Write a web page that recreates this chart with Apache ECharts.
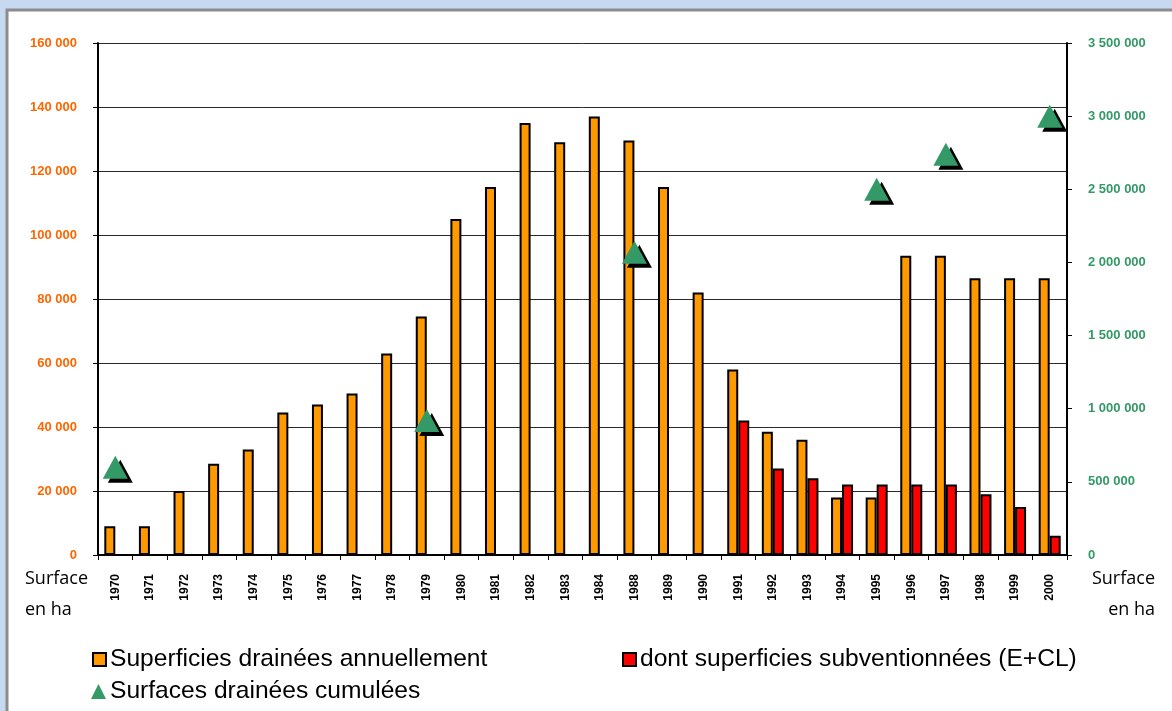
<!DOCTYPE html>
<html>
<head>
<meta charset="utf-8">
<script src="https://cdn.jsdelivr.net/npm/echarts@6/dist/echarts.min.js"></script>
<style>
  html, body { margin: 0; padding: 0; background: #c6d9f0; }
  #chart { width: 1172px; height: 711px; }
</style>
</head>
<body>
<div id="chart"></div>
<script>
const years = ['1970', '1971', '1972', '1973', '1974', '1975', '1976', '1977', '1978', '1979',
  '1980', '1981', '1982', '1983', '1984', '1988', '1989', '1990', '1991', '1992', '1993',
  '1994', '1995', '1996', '1997', '1998', '1999', '2000']

const annual = [9000, 9000, 20000, 28500, 33000, 44500, 47000, 50500, 63000, 74500,
  105000, 115000, 135000, 129000, 137000, 129500, 115000, 82000, 58000, 38500, 36000,
  18000, 18000, 93500, 93500, 86500, 86500, 86500]

const subsidised = [null, null, null, null, null, null, null, null, null, null,
  null, null, null, null, null, null, null, null, 42000, 27000, 24000,
  22000, 22000, 22000, 22000, 19000, 15000, 6000]

const cumulated = [600000, null, null, null, null, null, null, null, null, 920000,
  null, null, null, null, null, 2070000, null, null, null, null, null,
  null, 2500000, null, 2740000, null, null, 3000000]

const leftTicks = { min: 0, max: 160000, interval: 20000 }
const rightTicks = { min: 0, max: 3500000, interval: 500000 }

const names = [
  'Superficies drainées annuellement',
  'dont superficies subventionnées (E+CL)',
  'Surfaces drainées cumulées'
]

const fmt = v => String(v).replace(/\B(?=(\d{3})+(?!\d))/g, ' ')

const chart = echarts.init(document.getElementById('chart'), null, { renderer: 'canvas' })

const legendBase = {
  orient: 'horizontal',
  padding: 0,
  itemWidth: 13,
  itemHeight: 13,
  itemGap: 5,
  textStyle: { fontFamily: 'Liberation Sans, Arial, sans-serif', fontSize: 24.6, color: '#000', padding: [0, 0, 0, -1] },
  itemStyle: { shadowColor: 'rgba(0,0,0,0)', shadowOffsetX: 0, shadowOffsetY: 0 }
}

const sideFont = '18px "Open Sans", sans-serif'

const option = {
  animation: false,
  backgroundColor: '#c6d9f0',
  textStyle: { fontFamily: 'Liberation Sans, Arial, sans-serif' },
  graphic: [
    {
      type: 'rect',
      z: -10,
      silent: true,
      shape: { x: 7, y: 10, width: 1220, height: 760 },
      style: { fill: '#fff', stroke: '#8c8c8c', lineWidth: 3 }
    },
    { type: 'text', left: 25, top: 570, style: { text: 'Surface', font: sideFont, fill: '#000' } },
    { type: 'text', left: 25, top: 601, style: { text: 'en ha', font: sideFont, fill: '#000' } },
    { type: 'text', right: 17, top: 570, style: { text: 'Surface', font: sideFont, fill: '#000' } },
    { type: 'text', right: 17, top: 601, style: { text: 'en ha', font: sideFont, fill: '#000' } }
  ],
  legend: [
    Object.assign({}, legendBase, { data: [{ name: names[0], icon: 'rect' }], left: 92, top: 647 }),
    Object.assign({}, legendBase, { data: [{ name: names[1], icon: 'rect' }], left: 622, top: 647 }),
    Object.assign({}, legendBase, {
      data: [{ name: names[2], icon: 'triangle' }], left: 91, top: 679, itemWidth: 15, itemHeight: 15, itemGap: 3
    })
  ],
  grid: { left: 98, right: 105, top: 43, bottom: 156 },
  xAxis: {
    type: 'category',
    data: years,
    axisLine: { lineStyle: { color: '#000', width: 2 } },
    axisTick: { show: true, length: 5, lineStyle: { color: '#000', width: 1 } },
    axisLabel: {
      rotate: 90,
      interval: 0,
      margin: 19,
      color: '#000',
      fontWeight: 'bold',
      fontSize: 12
    }
  },
  yAxis: [
    {
      type: 'value',
      min: leftTicks.min,
      max: leftTicks.max,
      interval: leftTicks.interval,
      axisLine: { show: true, lineStyle: { color: '#000', width: 2 } },
      axisTick: { show: true, length: 5, lineStyle: { color: '#000' } },
      axisLabel: { formatter: fmt, color: '#ff6600', fontWeight: 'bold', fontSize: 13, margin: 21 },
      splitLine: { show: true, lineStyle: { color: '#2a2a2a', width: 1 } }
    },
    {
      type: 'value',
      min: rightTicks.min,
      max: rightTicks.max,
      interval: rightTicks.interval,
      position: 'right',
      axisLine: { show: true, lineStyle: { color: '#000', width: 2 } },
      axisTick: { show: true, length: 5, lineStyle: { color: '#000' } },
      axisLabel: { formatter: fmt, color: '#339966', fontWeight: 'bold', fontSize: 13, margin: 21 },
      splitLine: { show: false }
    }
  ],
  series: [
    {
      name: names[0],
      type: 'bar',
      data: annual,
      barWidth: 11,
      barGap: '0%',
      itemStyle: { color: '#ff9900', borderColor: '#000', borderWidth: 2 }
    },
    {
      name: names[1],
      type: 'bar',
      data: subsidised,
      barWidth: 11,
      barGap: '0%',
      itemStyle: { color: '#ff0000', borderColor: '#000', borderWidth: 2 }
    },
    {
      name: names[2],
      type: 'scatter',
      yAxisIndex: 1,
      data: cumulated,
      symbol: 'triangle',
      symbolSize: [25, 23],
      z: 5,
      itemStyle: {
        color: '#339966',
        opacity: 1,
        shadowColor: '#000',
        shadowBlur: 0,
        shadowOffsetX: 5,
        shadowOffsetY: 4
      }
    }
  ]
}

chart.setOption(option)
</script>
</body>
</html>
